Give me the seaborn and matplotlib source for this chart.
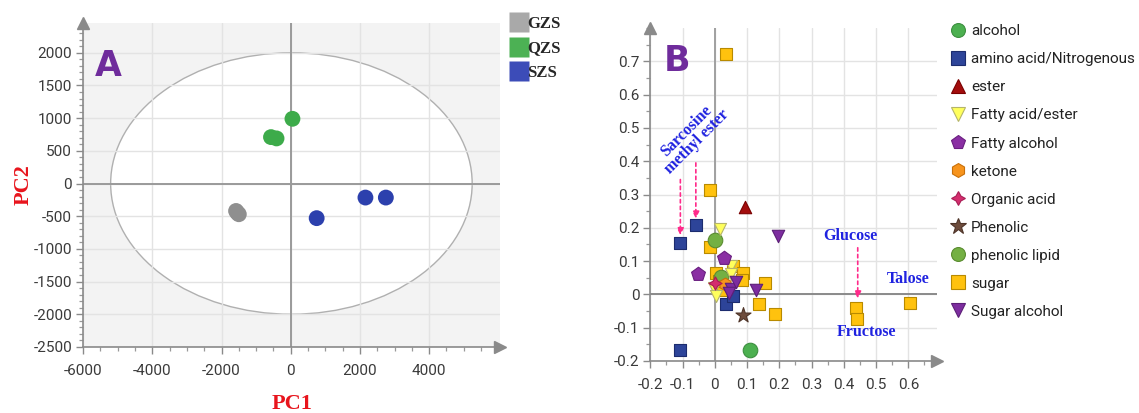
import matplotlib
matplotlib.use("Agg")
import pandas as pd
import matplotlib.pyplot as plt
import seaborn as sns
from matplotlib.patches import Ellipse
from matplotlib.lines import Line2D
from matplotlib.ticker import MultipleLocator

# ---- panel A: PCA scores ----
groups_a = ["GZS", "GZS", "GZS", "QZS", "QZS", "QZS", "SZS", "SZS", "SZS"]
pc1 = [-1580, -1540, -1500, 50, -570, -410, 750, 2160, 2750]
pc2 = [-420, -450, -470, 990, 710, 690, -530, -215, -215]

# ---- panel B: loadings ----
classes_b = (["sugar"] * 15 + ["amino acid/Nitrogenous"] * 5 + ["alcohol"]
             + ["phenolic lipid"] * 2 + ["ester"] + ["Fatty acid/ester"] * 5
             + ["Fatty alcohol"] * 2 + ["ketone"] + ["Organic acid"] + ["Phenolic"]
             + ["Sugar alcohol"] * 5)
load_x = [0.034, -0.014, -0.015, 0.004, 0.056, 0.086, 0.084, 0.024, 0.154, 0.138,
          0.185, 0.439, 0.441, 0.604, 0.012,
          -0.107, -0.059, -0.107, 0.035, 0.055,
          0.110,
          0.000, 0.018,
          0.092,
          0.016, 0.049, 0.051, -0.002, 0.004,
          -0.051, 0.027,
          0.030,
          0.000,
          0.087,
          0.196, 0.128, 0.049, 0.064, 0.044]
load_y = [0.722, 0.313, 0.142, 0.064, 0.086, 0.063, 0.043, 0.013, 0.034, -0.029,
          -0.060, -0.040, -0.075, -0.026, 0.040,
          0.155, 0.209, -0.168, -0.029, -0.006,
          -0.168,
          0.162, 0.052,
          0.264,
          0.195, 0.084, 0.060, 0.020, -0.005,
          0.060, 0.109,
          0.030,
          0.035,
          -0.063,
          0.175, 0.013, 0.016, 0.038, 0.005]
legend_order = ["alcohol", "amino acid/Nitrogenous", "ester", "Fatty acid/ester",
                "Fatty alcohol", "ketone", "Organic acid", "Phenolic",
                "phenolic lipid", "sugar", "Sugar alcohol"]
draw_order = ["sugar", "amino acid/Nitrogenous", "alcohol", "phenolic lipid", "ester",
              "Fatty acid/ester", "Fatty alcohol", "ketone", "Organic acid",
              "Phenolic", "Sugar alcohol"]

df_a = pd.DataFrame({"group": groups_a, "PC1": pc1, "PC2": pc2})
df_b = pd.DataFrame({"cls": classes_b, "x": load_x, "y": load_y})

colors_a = {"GZS": "#8f8f8f", "QZS": "#3dab4a", "SZS": "#2c40ad"}
legend_colors_a = {"GZS": "#a9a9a9", "QZS": "#4cb154", "SZS": "#3c4cb8"}
# marker, face, edge, size
style_b = {
    "alcohol": ("o", "#4cb050", "#3d8f40", 110),
    "amino acid/Nitrogenous": ("s", "#2d4499", "#1c2c6e", 75),
    "ester": ("^", "#a30d0d", "#7a0000", 80),
    "Fatty acid/ester": ("v", "#ffff5c", "#b5b56a", 75),
    "Fatty alcohol": ("p", "#8a2fa3", "#6a1f80", 110),
    "ketone": ("h", "#f7941d", "#c8700a", 85),
    "Organic acid": ((4, 1, 0), "#d42e6e", "#a81d55", 90),
    "Phenolic": ("*", "#6e4c3c", "#4e3428", 130),
    "phenolic lipid": ("o", "#74b043", "#5a8c30", 110),
    "sugar": ("s", "#ffc20e", "#b88a00", 75),
    "Sugar alcohol": ("v", "#7d2d9f", "#5c1f78", 80),
}

sns.set_style("white")
plt.rcParams["font.family"] = ["Roboto", "DejaVu Sans"]
plt.rcParams["axes.unicode_minus"] = False

fig = plt.figure(figsize=(11.39, 4.13), dpi=100)
ax1 = fig.add_axes([0.073, 0.160, 0.366, 0.785])
ax2 = fig.add_axes([0.571, 0.126, 0.252, 0.806])

spine_c = "#8a8a8a"
grid_c = "#e3e3e3"
serif = ["Liberation Serif", "DejaVu Serif"]

# ---------- panel A ----------
ax1.set_facecolor("#f3f3f3")
ax1.add_patch(Ellipse((20, 0), 10450, 4000, facecolor="white", edgecolor="#b0b0b0",
                      lw=1.0, zorder=0.5))
sns.scatterplot(data=df_a, x="PC1", y="PC2", hue="group", palette=colors_a, s=130,
                edgecolor="none", legend=False, ax=ax1, zorder=3)
ax1.set_xlim(-6000, 6050)
ax1.set_ylim(-2500, 2460)
ax1.set_xticks(range(-6000, 4001, 2000))
ax1.set_yticks(range(-2500, 2001, 500))
ax1.xaxis.set_minor_locator(MultipleLocator(500))
ax1.yaxis.set_minor_locator(MultipleLocator(100))
ax1.grid(True, color=grid_c, lw=1.0, zorder=1)
ax1.axhline(0, color="#9a9a9a", lw=1.4, zorder=2)
ax1.axvline(0, color="#9a9a9a", lw=1.4, zorder=2)
ax1.set_axisbelow(True)
ax1.set_xlabel("PC1", color="#e8141c", fontsize=16, fontweight="bold", family=serif,
               labelpad=12)
ax1.set_ylabel("PC2", color="#e8141c", fontsize=16, fontweight="bold", family=serif,
               labelpad=0)
ax1.text(0.027, 0.835, "A", transform=ax1.transAxes, color="#6f2c9c", fontsize=25,
         fontweight="bold", family=["DejaVu Sans"])
handles_a = [Line2D([], [], marker="s", ls="none", markersize=14,
                    color=legend_colors_a[g], markeredgecolor="none") for g in colors_a]
fig.legend(handles_a, list(colors_a), loc="upper left",
           bbox_to_anchor=(0.444, 0.977), frameon=False, handlelength=0.85,
           handletextpad=0.05, labelspacing=0.5, borderaxespad=0,
           prop={"family": serif, "weight": "bold", "size": 12})

# ---------- panel B ----------
for c in draw_order:
    m, fc, ec, sz = style_b[c]
    sub = df_b[df_b["cls"] == c]
    sns.scatterplot(data=sub, x="x", y="y", marker=m, color=fc, edgecolor=ec,
                    linewidth=0.8, s=sz, legend=False, ax=ax2, zorder=3)
ax2.set_xlim(-0.2, 0.69)
ax2.set_ylim(-0.2, 0.8)
ax2.set_xticks([i / 10 for i in range(-2, 7)])
ax2.set_yticks([i / 10 for i in range(-2, 8)])
ax2.set_xticklabels(["-0.2", "-0.1", "0", "0.1", "0.2", "0.3", "0.4", "0.5", "0.6"])
ax2.set_yticklabels(["-0.2", "-0.1", "0", "0.1", "0.2", "0.3", "0.4", "0.5", "0.6", "0.7"])
ax2.xaxis.set_minor_locator(MultipleLocator(0.05))
ax2.yaxis.set_minor_locator(MultipleLocator(0.05))
ax2.grid(True, color=grid_c, lw=1.0, zorder=1)
ax2.axhline(0, color="#8a8a8a", lw=1.4, zorder=2)
ax2.axvline(0, color="#a0a0a0", lw=1.4, zorder=2)
ax2.set_axisbelow(True)
ax2.set_xlabel("")
ax2.set_ylabel("")
ax2.text(0.048, 0.87, "B", transform=ax2.transAxes, color="#6f2c9c", fontsize=25,
         fontweight="bold", family=["DejaVu Sans"])

blue = "#1f22e0"
pink = "#ff2a8a"
ax2.text(-0.072, 0.475, "Sarcosine\nmethyl ester", rotation=45, ha="center", va="center",
         color=blue, fontsize=11.5, fontweight="bold", family=serif, linespacing=1.0,
         rotation_mode="anchor")
for ax_x, y0, y1 in [(-0.107, 0.345, 0.178), (-0.059, 0.395, 0.228), (0.443, 0.14, -0.012)]:
    ax2.annotate("", xy=(ax_x, y1), xytext=(ax_x, y0),
                 arrowprops=dict(arrowstyle="-|>", color=pink, lw=1.2, ls=(0, (2, 2)),
                                 mutation_scale=10, shrinkA=0, shrinkB=0), zorder=4)
ax2.text(0.42, 0.175, "Glucose", ha="center", va="center", color=blue, fontsize=11.5,
         fontweight="bold", family=serif)
ax2.text(0.598, 0.046, "Talose", ha="center", va="center", color=blue, fontsize=11.5,
         fontweight="bold", family=serif)
ax2.text(0.47, -0.112, "Fructose", ha="center", va="center", color=blue, fontsize=11.5,
         fontweight="bold", family=serif)

handles_b = []
for c in legend_order:
    m, fc, ec, sz = style_b[c]
    handles_b.append(Line2D([], [], marker=m, ls="none", markersize=10 if m != "*" else 12,
                            markerfacecolor=fc, markeredgecolor=ec, markeredgewidth=0.8))
fig.legend(handles_b, legend_order, loc="upper left", bbox_to_anchor=(0.829, 0.956),
           frameon=False, handlelength=1.0, handletextpad=0.35, labelspacing=0.92,
           borderaxespad=0, prop={"family": ["Roboto", "DejaVu Sans"], "size": 11},
           labelcolor="#222222")

# ---------- shared axis styling ----------
for ax in (ax1, ax2):
    for side in ("top", "right"):
        ax.spines[side].set_visible(False)
    for side in ("left", "bottom"):
        ax.spines[side].set_color(spine_c)
        ax.spines[side].set_linewidth(1.2)
    ax.tick_params(which="major", direction="out", length=5, width=1, color=spine_c,
                   labelsize=11, labelcolor="#3a3a3a", left=True, bottom=True, pad=3)
    ax.tick_params(which="minor", direction="out", length=3, width=0.9, color="#999999",
                   left=True, bottom=True)
    ax.tick_params(axis="x", which="major", pad=7)
    ax.plot(1, 0, marker=">", markersize=8, color=spine_c, transform=ax.transAxes,
            clip_on=False, zorder=5)
    ax.plot(0, 1, marker="^", markersize=8, color=spine_c, transform=ax.transAxes,
            clip_on=False, zorder=5)

fig.savefig("out.png", dpi=100)
